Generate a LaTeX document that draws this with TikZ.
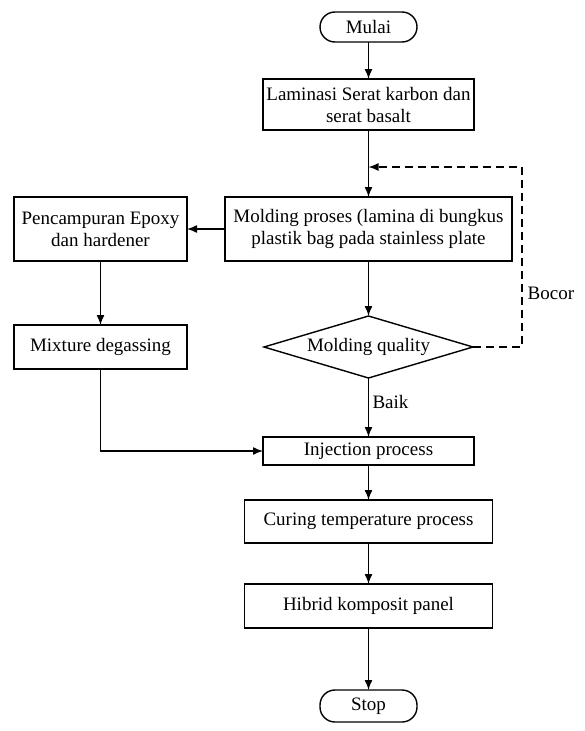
\documentclass[tikz,border=0pt]{standalone}
\usepackage{fontspec}
\setmainfont{Liberation Serif}
\usetikzlibrary{arrows.meta, positioning, shapes.geometric}

\begin{document}
\begin{tikzpicture}[
  box/.style={draw, line width=1.4pt, minimum width=211pt, minimum height=28pt,
              inner sep=2pt, outer sep=0pt, align=center},
  term/.style={draw, line width=1.4pt, rounded corners=15pt, minimum width=97pt,
               minimum height=30pt, inner sep=2pt, outer sep=0pt},
  decide/.style={draw, diamond, line width=1.4pt, aspect=3.37, minimum width=209pt,
                 minimum height=62pt, inner sep=0pt, outer sep=0pt},
  arr/.style={-{Latex[length=10pt,width=8pt]}, line width=1.4pt},
  loopline/.style={arr, dash pattern=on 8pt off 5pt},
  font=\fontsize{19pt}{22pt}\selectfont
]
  \useasboundingbox (0,0) rectangle (584pt,-731pt);

  \node[term] (start) at (368.5pt,-27pt) {Mulai};
  \node[box, minimum height=51pt, below=37pt of start] (lam) {Laminasi Serat karbon dan\\serat basalt};
  \node[box, minimum width=287pt, minimum height=64pt, below=67pt of lam] (mold)
       {Molding proses (lamina di bungkus\\plastik bag pada stainless plate};
  \node[decide, below=55pt of mold] (qual) {Molding quality};
  \node[box, below=59pt of qual] (inj) {Injection process};
  \node[box, minimum width=248pt, minimum height=43pt, below=35pt of inj] (cure) {Curing temperature process};
  \node[box, minimum width=248pt, minimum height=44pt, below=41pt of cure] (panel) {Hibrid komposit panel};
  \node[term, minimum height=32pt, below=62pt of panel] (stop) {Stop};
  \node[box, minimum width=173pt, minimum height=64pt, left=38pt of mold] (epoxy) {Pencampuran Epoxy\\dan hardener};
  \node[box, minimum width=173pt, minimum height=44pt, below=64pt of epoxy] (degas) {Mixture degassing};

  \coordinate[below=37pt of lam] (join);
  \coordinate[right=49pt of qual] (qcorner);

  \draw[arr] (start) -- (lam);
  \draw[arr] (lam) -- (mold);
  \draw[arr] (mold) -- (qual);
  \draw[arr] (qual) -- node[right, pos=0.4] {Baik} (inj);
  \draw[arr] (inj) -- (cure);
  \draw[arr] (cure) -- (panel);
  \draw[arr] (panel) -- (stop);
  \draw[arr] (mold) -- (epoxy);
  \draw[arr] (epoxy) -- (degas);
  \draw[arr] (degas) |- (inj);
  \draw[loopline] (qual.east) -- (qcorner) |- node[right, pos=0.15, inner sep=5pt] {Bocor} (join);
\end{tikzpicture}
\end{document}
